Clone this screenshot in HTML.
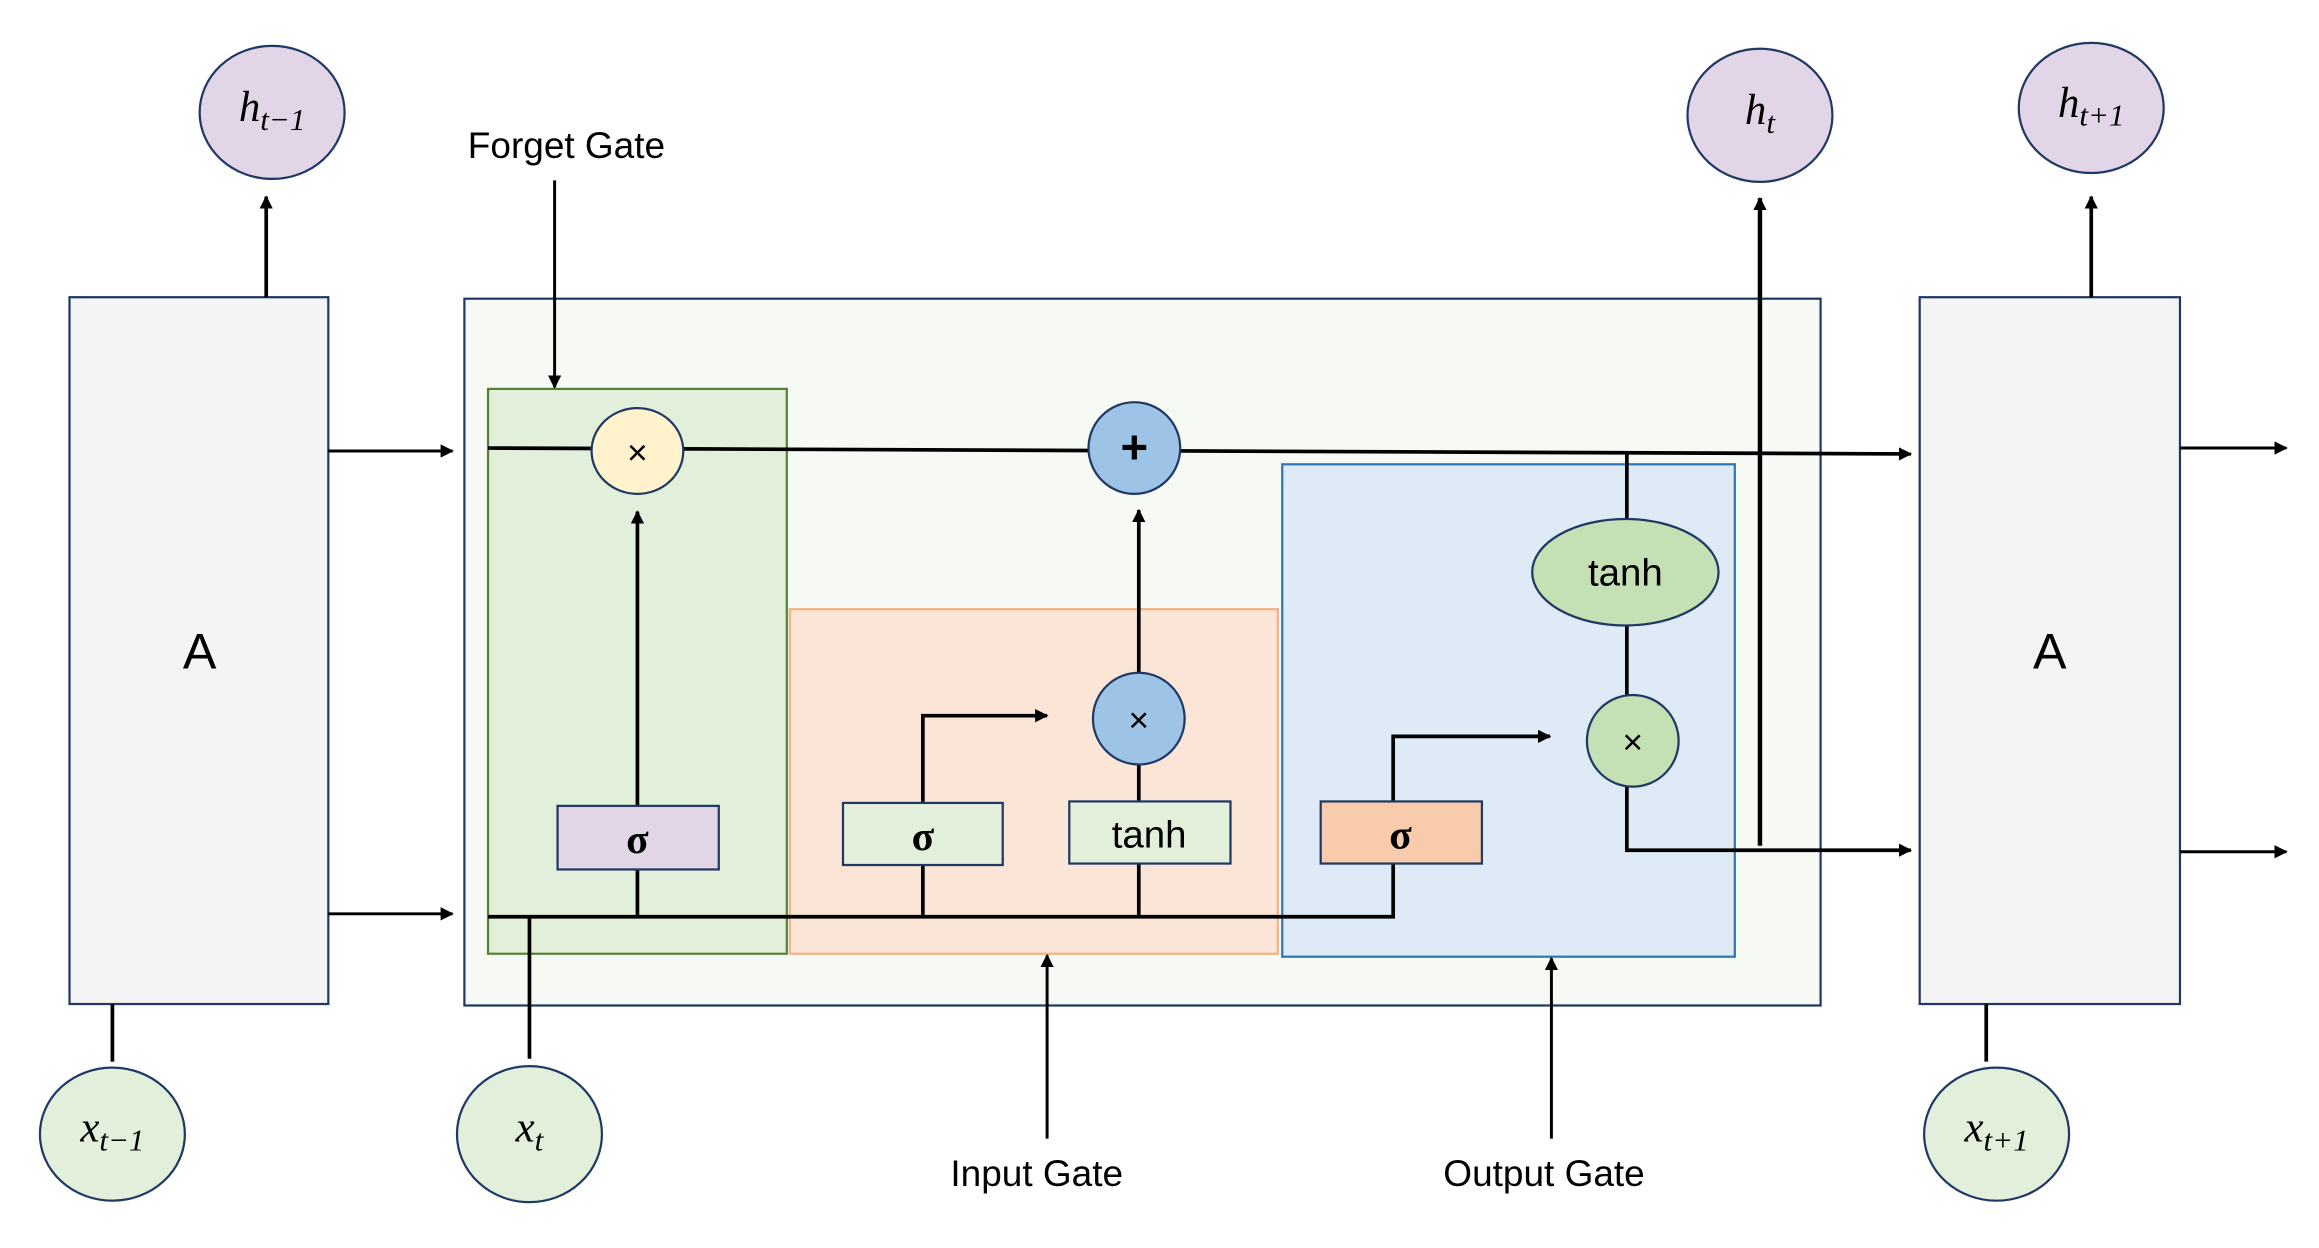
<!DOCTYPE html>
<html><head><meta charset="utf-8"><style>
html,body{margin:0;padding:0;background:#fff;}
svg{display:block;}
.t{font-family:"Liberation Sans",sans-serif;fill:#000;}
.m{font-family:"Liberation Serif",serif;font-style:italic;fill:#000;}
.s{font-family:"Liberation Serif",serif;font-weight:bold;fill:#000;}
</style></head><body>
<svg width="2319" height="1248" viewBox="0 0 1568 844" preserveAspectRatio="none" xmlns="http://www.w3.org/2000/svg">
<defs>
<marker id="b" viewBox="0 0 10 10" refX="9" refY="5" markerWidth="9" markerHeight="9" orient="auto" markerUnits="userSpaceOnUse"><path d="M0,0 L10,5 L0,10z" fill="#000"/></marker>
</defs>
<rect width="1568" height="844" fill="#fff"/>
<!-- left A -->
<rect x="47" y="201" width="175" height="478" fill="#f4f4f4" stroke="#1f3864" stroke-width="1.5"/>
<text x="135" y="452" class="t" font-size="34" text-anchor="middle">A</text>
<line x1="180" y1="201" x2="180" y2="133" stroke="#000" stroke-width="2.5" marker-end="url(#b)"/>
<ellipse cx="184" cy="76" rx="49" ry="45" fill="#e1d5e7" stroke="#1f3864" stroke-width="1.5"/>
<text x="184" y="82" class="m" font-size="29" text-anchor="middle">h<tspan font-size="21" dy="6">t−1</tspan></text>
<line x1="76" y1="679" x2="76" y2="718" stroke="#000" stroke-width="2.5"/>
<ellipse cx="76" cy="767" rx="49" ry="45" fill="#e2efda" stroke="#1f3864" stroke-width="1.5"/>
<text x="76" y="772" class="m" font-size="29" text-anchor="middle">x<tspan font-size="21" dy="6">t−1</tspan></text>
<line x1="222" y1="305" x2="306" y2="305" stroke="#000" stroke-width="2" marker-end="url(#b)"/>
<line x1="222" y1="618" x2="306" y2="618" stroke="#000" stroke-width="2" marker-end="url(#b)"/>
<!-- main box -->
<rect x="314" y="202" width="917" height="478" fill="#f7f9f4" stroke="#1f3864" stroke-width="1.5"/>
<rect x="330" y="263" width="202" height="382" fill="#e2efda" stroke="#548235" stroke-width="1.5"/>
<rect x="534" y="412" width="330" height="233" fill="#fbe5d6" stroke="#f4b183" stroke-width="1.5"/>
<rect x="867" y="314" width="306" height="333" fill="#deebf7" stroke="#2e75b6" stroke-width="1.5"/>
<text x="383" y="107" class="t" font-size="25" text-anchor="middle">Forget Gate</text>
<line x1="375" y1="122" x2="375" y2="262" stroke="#000" stroke-width="2" marker-end="url(#b)"/>
<!-- cell line -->
<line x1="330" y1="303" x2="1292" y2="307" stroke="#000" stroke-width="2.5" marker-end="url(#b)"/>
<ellipse cx="431" cy="305" rx="31" ry="29" fill="#fff2cc" stroke="#1f3864" stroke-width="1.5"/>
<text x="431" y="314" class="t" font-size="24" text-anchor="middle">×</text>
<ellipse cx="767" cy="303" rx="31" ry="31" fill="#9dc3e6" stroke="#1f3864" stroke-width="1.5"/>
<text x="767" y="313" class="t" font-size="32" font-weight="bold" text-anchor="middle">+</text>
<!-- bottom line -->
<polyline points="330,620 942,620 942,584" fill="none" stroke="#000" stroke-width="2.5"/>
<line x1="358" y1="620" x2="358" y2="716" stroke="#000" stroke-width="2.5"/>
<ellipse cx="358" cy="767" rx="49" ry="46" fill="#e2efda" stroke="#1f3864" stroke-width="1.5"/>
<text x="358" y="772" class="m" font-size="29" text-anchor="middle">x<tspan font-size="21" dy="6">t</tspan></text>
<!-- forget sigma -->
<line x1="431" y1="620" x2="431" y2="588" stroke="#000" stroke-width="2.5"/>
<line x1="431" y1="545" x2="431" y2="346" stroke="#000" stroke-width="2.5" marker-end="url(#b)"/>
<rect x="377" y="545" width="109" height="43" fill="#e1d5e7" stroke="#1f3864" stroke-width="1.5"/>
<text x="431" y="577" class="s" font-size="28" text-anchor="middle">σ</text>
<!-- input gate -->
<line x1="624" y1="620" x2="624" y2="585" stroke="#000" stroke-width="2.5"/>
<polyline points="624,543 624,484 708,484" fill="none" stroke="#000" stroke-width="2.5" marker-end="url(#b)"/>
<rect x="570" y="543" width="108" height="42" fill="#e2efda" stroke="#1f3864" stroke-width="1.5"/>
<text x="624" y="575" class="s" font-size="28" text-anchor="middle">σ</text>
<line x1="770" y1="620" x2="770" y2="584" stroke="#000" stroke-width="2.5"/>
<line x1="770" y1="542" x2="770" y2="516" stroke="#000" stroke-width="2.5"/>
<line x1="770" y1="455" x2="770" y2="345" stroke="#000" stroke-width="2.5" marker-end="url(#b)"/>
<rect x="723" y="542" width="109" height="42" fill="#e2efda" stroke="#1f3864" stroke-width="1.5"/>
<text x="777" y="573" class="t" font-size="26" text-anchor="middle">tanh</text>
<ellipse cx="770" cy="486" rx="31" ry="31" fill="#9dc3e6" stroke="#1f3864" stroke-width="1.5"/>
<text x="770" y="495" class="t" font-size="24" text-anchor="middle">×</text>
<!-- output gate -->
<line x1="1100" y1="305" x2="1100" y2="352" stroke="#000" stroke-width="2.5"/>
<line x1="1100" y1="423" x2="1100" y2="470" stroke="#000" stroke-width="2.5"/>
<ellipse cx="1099" cy="387" rx="63" ry="36" fill="#c5e0b4" stroke="#1f3864" stroke-width="1.5"/>
<text x="1099" y="396" class="t" font-size="26" text-anchor="middle">tanh</text>
<polyline points="942,542 942,498 1048,498" fill="none" stroke="#000" stroke-width="2.5" marker-end="url(#b)"/>
<rect x="893" y="542" width="109" height="42" fill="#f8cbad" stroke="#1f3864" stroke-width="1.5"/>
<text x="947" y="574" class="s" font-size="28" text-anchor="middle">σ</text>
<polyline points="1100,532 1100,575 1292,575" fill="none" stroke="#000" stroke-width="2.5" marker-end="url(#b)"/>
<ellipse cx="1104" cy="501" rx="31" ry="31" fill="#c5e0b4" stroke="#1f3864" stroke-width="1.5"/>
<text x="1104" y="510" class="t" font-size="24" text-anchor="middle">×</text>
<line x1="1190" y1="572" x2="1190" y2="134" stroke="#000" stroke-width="3" marker-end="url(#b)"/>
<ellipse cx="1190" cy="78" rx="49" ry="45" fill="#e1d5e7" stroke="#1f3864" stroke-width="1.5"/>
<text x="1190" y="84" class="m" font-size="29" text-anchor="middle">h<tspan font-size="21" dy="6">t</tspan></text>
<!-- gate labels -->
<text x="701" y="802" class="t" font-size="25" text-anchor="middle">Input Gate</text>
<line x1="708" y1="770" x2="708" y2="646" stroke="#000" stroke-width="2" marker-end="url(#b)"/>
<text x="1044" y="802" class="t" font-size="25" text-anchor="middle">Output Gate</text>
<line x1="1049" y1="770" x2="1049" y2="648" stroke="#000" stroke-width="2" marker-end="url(#b)"/>
<!-- right A -->
<rect x="1298" y="201" width="176" height="478" fill="#f4f4f4" stroke="#1f3864" stroke-width="1.5"/>
<text x="1386" y="452" class="t" font-size="34" text-anchor="middle">A</text>
<line x1="1414" y1="201" x2="1414" y2="133" stroke="#000" stroke-width="2.5" marker-end="url(#b)"/>
<ellipse cx="1414" cy="73" rx="49" ry="44" fill="#e1d5e7" stroke="#1f3864" stroke-width="1.5"/>
<text x="1414" y="79" class="m" font-size="29" text-anchor="middle">h<tspan font-size="21" dy="6">t+1</tspan></text>
<line x1="1343" y1="679" x2="1343" y2="718" stroke="#000" stroke-width="2.5"/>
<ellipse cx="1350" cy="767" rx="49" ry="45" fill="#e2efda" stroke="#1f3864" stroke-width="1.5"/>
<text x="1350" y="772" class="m" font-size="29" text-anchor="middle">x<tspan font-size="21" dy="6">t+1</tspan></text>
<line x1="1474" y1="303" x2="1546" y2="303" stroke="#000" stroke-width="2" marker-end="url(#b)"/>
<line x1="1474" y1="576" x2="1546" y2="576" stroke="#000" stroke-width="2" marker-end="url(#b)"/>
</svg>
</body></html>
